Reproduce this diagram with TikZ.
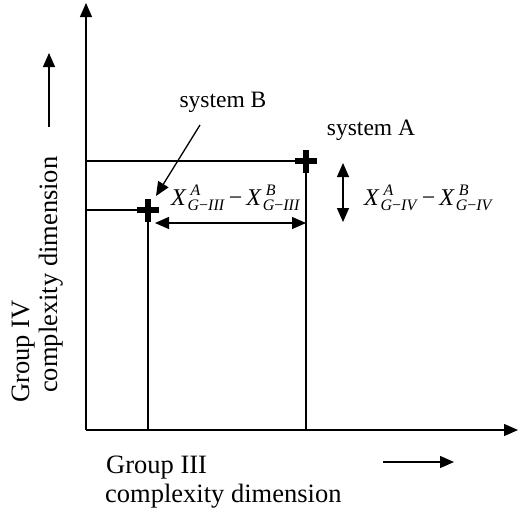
\documentclass[tikz,border=0pt]{standalone}
\usepackage{fontspec}
\setmainfont{Liberation Serif}
\usetikzlibrary{arrows.meta}
\newcommand{\XG}[2]{\textit{X}\kern1pt\rlap{\raisebox{10pt}{\fontsize{16}{16}\selectfont\kern3pt\textit{#1}}}\raisebox{-5pt}{\fontsize{16}{16}\selectfont\textit{G}−\textit{#2}}}
\tikzset{
  ln/.style={line width=1.3pt},
  tip/.style={Triangle[length=14pt,width=12pt]},
  arr/.style={ln,-{Triangle[length=14pt,width=12pt]}},
  darr/.style={ln,{Triangle[length=14pt,width=12pt]}-{Triangle[length=14pt,width=12pt]}},
  lbl/.style={font=\fontsize{26.5}{30}\selectfont,inner sep=0pt},
  slbl/.style={font=\fontsize{23.5}{28}\selectfont,inner sep=0pt},
  mlbl/.style={font=\fontsize{24}{26}\selectfont,inner sep=0pt},
  cross/.style={line width=5.5pt}
}
\begin{document}
\begin{tikzpicture}[x=1pt,y=-1pt]
\useasboundingbox (0,0) rectangle (519,512);
% axes
\coordinate (O) at (86,430);
\coordinate (Ytop) at (86,3);
\coordinate (Xend) at (518,430);
\draw[arr] (O) -- (Ytop);
\draw[arr] (O) -- (Xend);
% points
\coordinate (A) at (306,161);
\coordinate (B) at (148,210);
\coordinate (Ay) at (86,161);
\coordinate (By) at (86,210);
\coordinate (Ax) at (306,430);
\coordinate (Bx) at (148,430);
\draw[ln] (Ay) -- (A) -- (Ax);
\draw[ln] (By) -- (B) -- (Bx);
\draw[cross] ([xshift=-11pt]A) -- ([xshift=11pt]A) ([yshift=-11.5pt]A) -- ([yshift=11.5pt]A);
\draw[cross] ([xshift=-11pt]B) -- ([xshift=11pt]B) ([yshift=-11.5pt]B) -- ([yshift=11.5pt]B);
% difference arrows
\coordinate (h1) at (155,223);
\coordinate (h2) at (306,223);
\draw[darr] (h1) -- (h2);
\coordinate (v1) at (343,163);
\coordinate (v2) at (343,222);
\draw[darr] (v1) -- (v2);
\node[mlbl,anchor=base west] (d3) at (171,205) {\XG{A}{III}\kern4pt−\kern4pt\XG{B}{III}};
\node[mlbl,anchor=base west] (d4) at (364,205) {\XG{A}{IV}\kern4pt−\kern4pt\XG{B}{IV}};
% system labels
\node[slbl] (sA) at (371,130) {system A};
\node[slbl] (sB) at (223,102) {system B};
\coordinate (sBstart) at (200,125);
\coordinate (sBend) at (156,196);
\draw[arr] (sBstart) -- (sBend);
% axis labels
\node[lbl,anchor=base west] (x1) at (106,473) {Group III};
\node[lbl,anchor=base west] (x2) at (105,502) {complexity dimension};
\coordinate (xa1) at (383,462);
\coordinate (xa2) at (454,462);
\draw[arr] (xa1) -- (xa2);
\node[lbl,anchor=base west,rotate=90] (y1) at (29,403) {Group IV};
\node[lbl,anchor=base west,rotate=90] (y2) at (57,393) {complexity dimension};
\coordinate (ya1) at (49,127);
\coordinate (ya2) at (49,53);
\draw[arr] (ya1) -- (ya2);
\end{tikzpicture}
\end{document}
